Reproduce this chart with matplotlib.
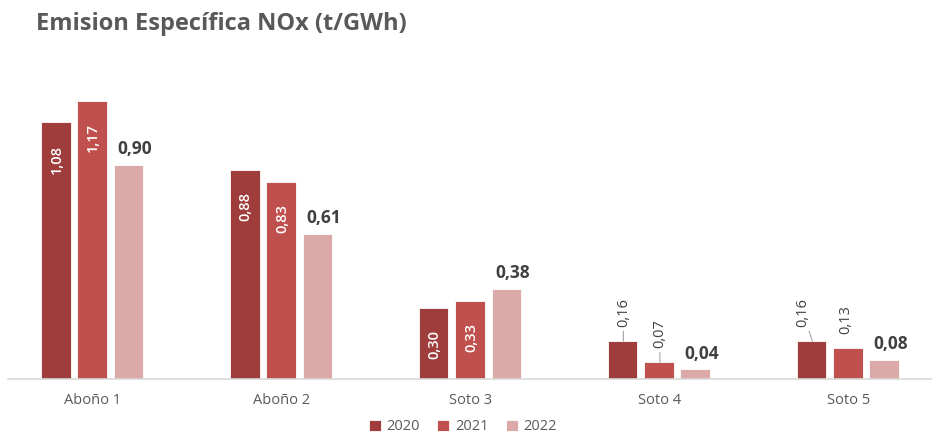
import numpy as np
import matplotlib.pyplot as plt

plt.rcParams['font.family'] = ['Open Sans', 'DejaVu Sans']

plantas = ["Aboño 1", "Aboño 2", "Soto 3", "Soto 4", "Soto 5"]
anios = ["2020", "2021", "2022"]
v2020 = [1.08, 0.88, 0.30, 0.16, 0.16]
v2021 = [1.17, 0.83, 0.33, 0.07, 0.13]
v2022 = [0.90, 0.61, 0.38, 0.04, 0.08]

colores = ["#9E3D3B", "#C0504D", "#DBA9A8"]
gris = "#595959"
oscuro = "#404040"

W, H = 932, 434
fig = plt.figure(figsize=(W / 100, H / 100), dpi=100)
ax = fig.add_axes([8 / W, (H - 379) / H, 924 / W, (379 - 60) / H])

x = np.arange(len(plantas))
paso = 0.193
ancho = 0.158
series = [v2020, v2021, v2022]
barras = []
for i, (vals, c) in enumerate(zip(series, colores)):
    b = ax.bar(x + (i - 1) * paso - 0.005, vals, ancho, color=c, label=anios[i],
               edgecolor="white", linewidth=0.6)
    barras.append(b)

px = 237.6  # pixels per unit
ax.set_ylim(0, (379 - 60) / px)
ax.set_xlim(-0.45, 4.44)

def fmt(v):
    return f"{v:.2f}".replace(".", ",")

# 2020 / 2021: vertical labels, inside when bar is tall enough
for i in range(2):
    for j, v in enumerate(series[i]):
        xc = x[j] + (i - 1) * paso
        if v >= 0.25:
            ax.annotate(fmt(v), (xc, v), xytext=(0, -16), textcoords="offset points",
                        rotation=90, ha="center", va="top", color="white",
                        fontsize=10.5, fontweight="semibold")
        else:
            if j == 4 and i == 1:
                ax.annotate(fmt(v), (xc, v), xytext=(-2, 10), textcoords="offset points",
                            rotation=90, ha="center", va="bottom", color=oscuro,
                            fontsize=10.5)
                continue
            dx = -7 if j == 4 else 0
            ax.annotate(fmt(v), (xc, v), xytext=(dx, 10), textcoords="offset points",
                        rotation=90, ha="center", va="bottom", color=oscuro,
                        fontsize=10.5,
                        arrowprops=dict(arrowstyle="-", color="#A6A6A6", lw=0.8,
                                        shrinkA=1, shrinkB=0))

# 2022: horizontal bold labels above
for j, v in enumerate(v2022):
    xc = x[j] + paso
    ax.annotate(fmt(v), (xc, v), xytext=(4, 5), textcoords="offset points",
                ha="center", va="bottom", color=oscuro, fontsize=12.5, fontweight="bold")

for s in ["top", "right", "left"]:
    ax.spines[s].set_visible(False)
ax.spines["bottom"].set_color("#D9D9D9")
ax.spines["bottom"].set_linewidth(1.2)
ax.set_yticks([])
ax.set_xticks(x)
ax.set_xticklabels(plantas, color=gris, fontsize=10.5)
ax.tick_params(axis="x", length=0, pad=10)

fig.text(36 / W, 1 - 24 / H, "Emision Específica NOx (t/GWh)", ha="left", va="center",
         fontsize=17, fontweight="bold", color=gris)

fig.legend(handles=barras, labels=anios, loc="center", bbox_to_anchor=(463 / W, 1 - 427 / H),
           ncol=3, frameon=False, fontsize=10.5, labelcolor=gris, handlelength=0.8,
           handleheight=0.8, handletextpad=0.4, columnspacing=1.2)

fig.savefig("out.png", dpi=100)
